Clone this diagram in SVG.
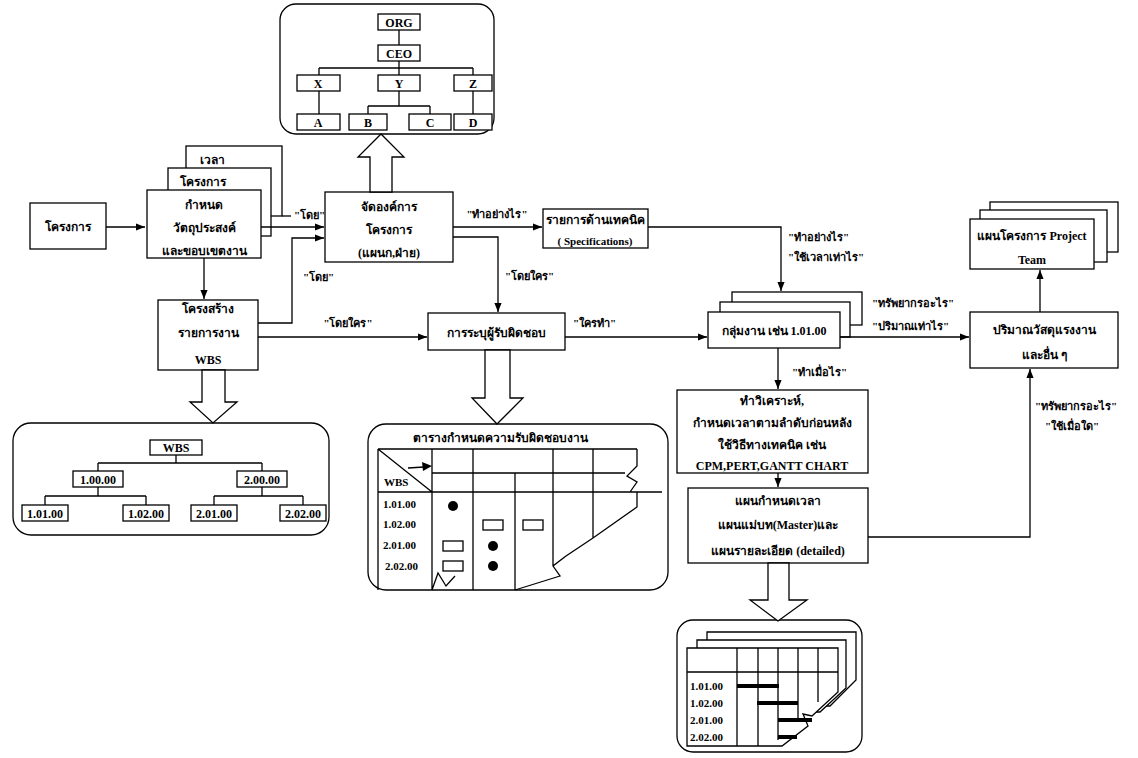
<svg xmlns="http://www.w3.org/2000/svg" width="1138" height="758" viewBox="0 0 1138 758">
<style>
.b{fill:#fff;stroke:#000;stroke-width:1.3}
.c{fill:#fff;stroke:#000;stroke-width:1.3}
.l{fill:none;stroke:#000;stroke-width:1.3}
.t{font-family:"Liberation Serif","Noto Sans",serif;font-size:12px;font-weight:bold;fill:#000;text-anchor:middle}
.s{font-family:"Liberation Serif","Noto Sans",serif;font-size:11px;font-weight:bold;fill:#000}
.m{text-anchor:middle}
.n{font-family:"Liberation Serif",serif;font-size:12px;font-weight:bold;fill:#000;text-anchor:middle}
.bar{stroke:#000;stroke-width:4}
</style>
<defs>
<marker id="a" viewBox="0 0 10 10" refX="10" refY="5" markerWidth="9" markerHeight="9" markerUnits="userSpaceOnUse" orient="auto">
<path d="M0,1 L10,5 L0,9 z" fill="#000"/>
</marker>
</defs>
<rect width="1138" height="758" fill="#fff"/>

<g id="org-chart">
<rect class="c" x="280" y="4" width="214" height="130" rx="16"/>
<path class="l" d="M399,30V45 M399,61V68 M319,68H473 M319,68V75 M399,68V75 M473,68V75 M319,91V114 M399,91V106 M368,106H430 M368,106V114 M430,106V114 M473,91V114"/>
<rect class="b" x="378" y="14" width="42" height="16"/><text class="n" x="399" y="27">ORG</text>
<rect class="b" x="378" y="45" width="42" height="16"/><text class="n" x="399" y="58">CEO</text>
<rect class="b" x="297" y="75" width="43" height="16"/><text class="n" x="318" y="88">X</text>
<rect class="b" x="378" y="75" width="42" height="16"/><text class="n" x="399" y="88">Y</text>
<rect class="b" x="454" y="75" width="38" height="16"/><text class="n" x="473" y="88">Z</text>
<rect class="b" x="297" y="114" width="43" height="16"/><text class="n" x="318" y="127">A</text>
<rect class="b" x="349" y="114" width="38" height="16"/><text class="n" x="368" y="127">B</text>
<rect class="b" x="409" y="114" width="42" height="16"/><text class="n" x="430" y="127">C</text>
<rect class="b" x="454" y="114" width="38" height="16"/><text class="n" x="473" y="127">D</text>
</g>

<g id="project">
<rect class="b" x="30" y="203" width="76" height="46"/>
<text class="t" x="68" y="231">โครงการ</text>
</g>

<g id="objective-stack">
<rect class="b" x="186" y="146" width="96" height="70"/>
<rect class="b" x="168" y="168" width="103" height="68"/>
<rect class="b" x="147" y="190" width="114" height="68"/>
<text class="t" x="212" y="164">เวลา</text>
<text class="t" x="203" y="186">โครงการ</text>
<text class="t" x="204" y="209">กำหนด</text>
<text class="t" x="204" y="232">วัตถุประสงค์</text>
<text class="t" x="204" y="255">และขอบเขตงาน</text>
</g>

<g id="organize">
<rect class="b" x="325" y="192" width="128" height="70"/>
<text class="t" x="389" y="211">จัดองค์การ</text>
<text class="t" x="389" y="234">โครงการ</text>
<text class="t" x="389" y="257">(แผนก,ฝ่าย)</text>
</g>

<g id="specs">
<rect class="b" x="543" y="209" width="105" height="39"/>
<text class="t" x="595" y="224">รายการด้านเทคนิค</text>
<text class="s m" x="595" y="245">( Specifications)</text>
</g>

<g id="wbs-structure">
<rect class="b" x="158" y="300" width="100" height="70"/>
<text class="t" x="208" y="313">โครงสร้าง</text>
<text class="t" x="208" y="337">รายการงาน</text>
<text class="t" x="208" y="364">WBS</text>
</g>

<g id="responsibility">
<rect class="b" x="428" y="313" width="137" height="37"/>
<text class="t" x="496" y="337">การระบุผู้รับผิดชอบ</text>
</g>

<g id="work-group-stack">
<rect class="b" x="732" y="292" width="130" height="33"/>
<rect class="b" x="720" y="302" width="130" height="35"/>
<rect class="b" x="708" y="312" width="132" height="36"/>
<text class="t" x="774" y="335">กลุ่มงาน เช่น 1.01.00</text>
</g>

<g id="quantity">
<rect class="b" x="970" y="312" width="148" height="56"/>
<text class="t" x="1044" y="334">ปริมาณวัสดุแรงงาน</text>
<text class="t" x="1044" y="359">และอื่น ๆ</text>
</g>

<g id="project-plan-stack">
<rect class="b" x="990" y="202" width="128" height="50"/>
<rect class="b" x="980" y="210" width="127" height="52"/>
<rect class="b" x="970" y="219" width="124" height="50"/>
<text class="t" x="1032" y="240">แผนโครงการ Project</text>
<text class="t" x="1032" y="264">Team</text>
</g>

<g id="analysis">
<rect class="b" x="677" y="390" width="191" height="83"/>
<text class="t" x="772" y="405">ทำวิเคราะห์,</text>
<text class="t" x="772" y="427">กำหนดเวลาตามลำดับก่อนหลัง</text>
<text class="t" x="772" y="449">ใช้วิธีทางเทคนิค เช่น</text>
<text class="n" x="772" y="470">CPM,PERT,GANTT CHART</text>
</g>

<g id="schedule">
<rect class="b" x="688" y="488" width="180" height="75"/>
<text class="t" x="778" y="505">แผนกำหนดเวลา</text>
<text class="t" x="778" y="529">แผนแม่บท(Master)และ</text>
<text class="t" x="778" y="555">แผนรายละเอียด (detailed)</text>
</g>

<g id="wbs-tree">
<rect class="c" x="13" y="423" width="316" height="112" rx="18"/>
<path class="l" d="M176,455V463 M98,463H262 M98,463V471 M262,463V471 M98,487V496 M45,496H146 M45,496V505 M146,496V505 M262,487V496 M214,496H303 M214,496V505 M303,496V505"/>
<rect class="b" x="150" y="440" width="52" height="15"/><text class="n" x="176" y="452">WBS</text>
<rect class="b" x="73" y="471" width="50" height="16"/><text class="n" x="98" y="484">1.00.00</text>
<rect class="b" x="237" y="471" width="50" height="16"/><text class="n" x="262" y="484">2.00.00</text>
<rect class="b" x="22" y="505" width="46" height="16"/><text class="n" x="45" y="518">1.01.00</text>
<rect class="b" x="123" y="505" width="46" height="16"/><text class="n" x="146" y="518">1.02.00</text>
<rect class="b" x="191" y="505" width="46" height="16"/><text class="n" x="214" y="518">2.01.00</text>
<rect class="b" x="280" y="505" width="46" height="16"/><text class="n" x="303" y="518">2.02.00</text>
</g>

<g id="responsibility-table">
<rect class="c" x="368" y="424" width="300" height="166" rx="18"/>
<text class="t" x="500" y="442">ตารางกำหนดความรับผิดชอบงาน</text>
<path class="l" d="M378,449H637 M378,449V590 M378,492H662 M432,473H625 M378,449L432,492 M432,449V590 M473,449V590 M515,473V590 M553,449V566 M593,449V538 M637,449V466 L627,476 L637,482 L630,492 M637,492V507 L593,538 M566,556 L553,566 L560,576 L515,590 M593,538 L566,556 M432,590 L438,573 L446,586 L455,576"/>
<path class="l" d="M408,468L424,467"/>
<path d="M432,466 L422,462 L423,471 z" fill="#000"/>
<text class="s" x="384" y="486">WBS</text>
<text class="s" x="383" y="508">1.01.00</text>
<text class="s" x="383" y="528">1.02.00</text>
<text class="s" x="383" y="549">2.01.00</text>
<text class="s" x="385" y="570">2.02.00</text>
<circle cx="453" cy="506" r="5"/>
<rect class="b" x="483" y="520" width="20" height="10"/>
<rect class="b" x="523" y="520" width="20" height="10"/>
<rect class="b" x="443" y="541" width="20" height="10"/>
<circle cx="493" cy="546" r="5"/>
<rect class="b" x="443" y="561" width="20" height="10"/>
<circle cx="493" cy="566" r="5"/>
</g>

<g id="gantt">
<rect class="c" x="677" y="620" width="185" height="132" rx="16"/>
<polygon class="b" points="707,632 856,632 856,680 830,706 707,706"/>
<polygon class="b" points="697,640 846,640 846,688 820,712 697,712"/>
<polygon class="b" points="687,648 838,648 838,692 812,716 803,714 808,726 782,746 687,746"/>
<path class="l" d="M687,672H838 M737,648V746 M758,648V746 M778,648V740 M798,648V722 M818,648V702"/>
<line class="bar" x1="737" y1="686" x2="779" y2="686"/>
<line class="bar" x1="757" y1="703" x2="798" y2="703"/>
<line class="bar" x1="778" y1="720" x2="812" y2="720"/>
<line class="bar" x1="778" y1="737" x2="797" y2="737"/>
<text class="s" x="690" y="690">1.01.00</text>
<text class="s" x="690" y="707">1.02.00</text>
<text class="s" x="690" y="724">2.01.00</text>
<text class="s" x="690" y="741">2.02.00</text>
</g>

<g id="hollow-arrows">
<polygon class="b" points="370,192 370,157 358,157 381,134 404,157 392,157 392,192"/>
<polygon class="b" points="202,370 202,402 190,402 213,423 237,402 225,402 225,370"/>
<polygon class="b" points="485,350 485,398 472,398 497,424 523,398 510,398 510,350"/>
<polygon class="b" points="768,563 768,600 750,600 778,621 807,600 789,600 789,563"/>
</g>

<g id="connectors">
<path class="l" d="M106,227H145" marker-end="url(#a)"/>
<path class="l" d="M261,227H324" marker-end="url(#a)"/>
<path class="l" d="M282,216H291"/>
<path class="l" d="M204,258V299" marker-end="url(#a)"/>
<path class="l" d="M258,323H292V238H324" marker-end="url(#a)"/>
<path class="l" d="M258,337H427" marker-end="url(#a)"/>
<path class="l" d="M453,227H542" marker-end="url(#a)"/>
<path class="l" d="M453,237H498V312" marker-end="url(#a)"/>
<path class="l" d="M565,337H707" marker-end="url(#a)"/>
<path class="l" d="M648,227H781V291" marker-end="url(#a)"/>
<path class="l" d="M840,337H969" marker-end="url(#a)"/>
<path class="l" d="M1040,312V270" marker-end="url(#a)"/>
<path class="l" d="M778,348V389" marker-end="url(#a)"/>
<path class="l" d="M778,473V487" marker-end="url(#a)"/>
<path class="l" d="M868,537H1030V369" marker-end="url(#a)"/>
<text class="s" x="294" y="219">"โดย"</text>
<text class="s" x="303" y="281">"โดย"</text>
<text class="s m" x="348" y="327">"โดยใคร"</text>
<text class="s m" x="497" y="218">"ทำอย่างไร"</text>
<text class="s" x="505" y="280">"โดยใคร"</text>
<text class="s" x="573" y="327">"ใครทำ"</text>
<text class="s" x="788" y="241">"ทำอย่างไร"</text>
<text class="s" x="788" y="261">"ใช้เวลาเท่าไร"</text>
<text class="s" x="872" y="307">"ทรัพยากรอะไร"</text>
<text class="s" x="872" y="330">"ปริมาณเท่าไร"</text>
<text class="s" x="792" y="376">"ทำเมื่อไร"</text>
<text class="s m" x="1076" y="410">"ทรัพยากรอะไร"</text>
<text class="s m" x="1072" y="430">"ใช้เมื่อใด"</text>
</g>
</svg>
